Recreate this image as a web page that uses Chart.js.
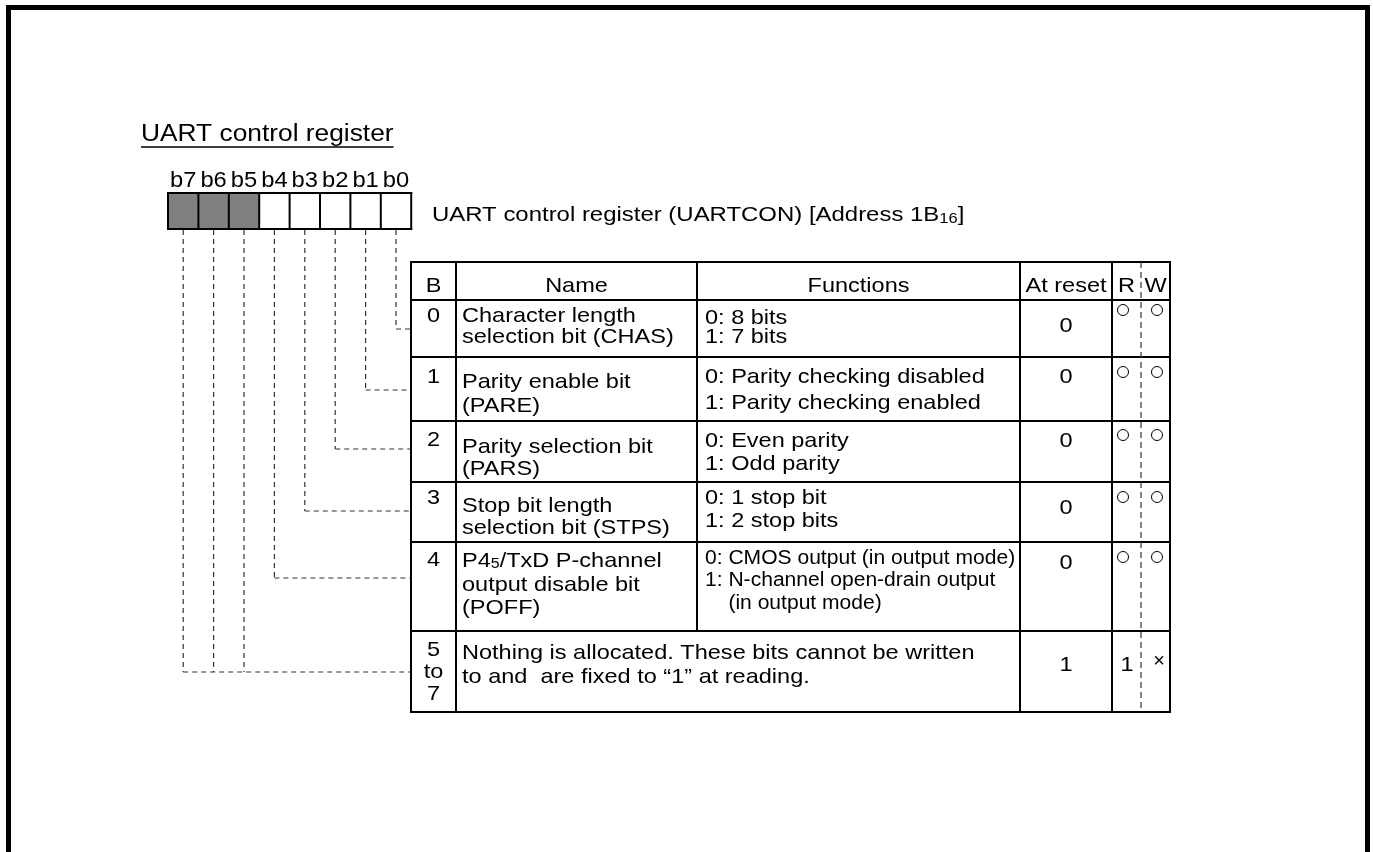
<!DOCTYPE html>
<html>
  <head>
    <meta charset="utf-8" />
    <title>UART control register</title>
    <script src="https://cdn.jsdelivr.net/npm/chart.js@4"></script>
    <style>
      html, body { margin: 0; padding: 0; background: #fff; }
      canvas { display: block; }
    </style>
  </head>
  <body>
    <canvas id="reg" width="1373" height="852"></canvas>

    <script>
      // register bits (b7 .. b0), 1 = not allocated (grey)
      var bitLabels = ["b7", "b6", "b5", "b4", "b3", "b2", "b1", "b0"];
      var bitReserved = [1, 1, 1, 0, 0, 0, 0, 0];

      // table
      var headers = ["B", "Name", "Functions", "At reset", "R", "W"];
      var rowBits = [["0"], ["1"], ["2"], ["3"], ["4"], ["5", "to", "7"]];
      var rowNames = [
        ["Character length", "selection bit (CHAS)"],
        ["Parity enable bit", "(PARE)"],
        ["Parity selection bit", "(PARS)"],
        ["Stop bit length", "selection bit (STPS)"],
        ["P4_5/TxD P-channel", "output disable bit", "(POFF)"],
        ["Nothing is allocated. These bits cannot be written", "to and  are fixed to \u201c1\u201d at reading."],
      ];
      var rowFunctions = [
        ["0: 8 bits", "1: 7 bits"],
        ["0: Parity checking disabled", "1: Parity checking enabled"],
        ["0: Even parity", "1: Odd parity"],
        ["0: 1 stop bit", "1: 2 stop bits"],
        ["0: CMOS output (in output mode)", "1: N-channel open-drain output", "    (in output mode)"],
        [],
      ];
      var rowReset = ["0", "0", "0", "0", "0", "1"];
      var rowRead = ["o", "o", "o", "o", "o", "1"];
      var rowWrite = ["o", "o", "o", "o", "o", "x"];
      // which register bits point at each row
      var rowSource = [[0], [1], [2], [3], [4], [5, 6, 7]];

      var title = "UART control register";
      var regCaption = ["UART control register (UARTCON) [Address 1B", "16", "]"];

      // layout (pixels)
      var W = 1373, H = 852;
      var FONT = '"Liberation Sans", Arial, sans-serif';
      var SX = 1.12; // glyphs in the original are a bit wide
      var boxX = 168, boxW = 30.4, boxTop = 193, boxBot = 229;
      var colX = [411, 456, 697, 1020, 1112, 1141, 1170];
      var rowY = [262, 300, 357, 421, 482, 542, 631, 712];
      var headY = 286;
      var rowLay = [
        { b: 316, name: [316, 337], fn: [318, 337], reset: 326, rw: 310, link: 329 },
        { b: 377, name: [382, 406], fn: [377, 403], reset: 377, rw: 372, link: 390 },
        { b: 440, name: [447, 469], fn: [441, 464], reset: 441, rw: 435, link: 449 },
        { b: 498, name: [506, 528], fn: [498, 521], reset: 508, rw: 497, link: 511 },
        { b: 560, name: [561, 585, 608], fn: [559, 581, 604], reset: 563, rw: 557, link: 578 },
        { b: 650, name: [653, 677], fn: [], reset: 665, rw: 665, link: 672 },
      ];

      var registerPlugin = {
        id: "register",
        afterDraw: function (chart) {
          var ctx = chart.ctx;
          var X = function (v) { return chart.scales.x.getPixelForValue(v); };
          var Y = function (v) { return chart.scales.y.getPixelForValue(v); };

          function line(x1, y1, x2, y2, w, dash, color) {
            ctx.save();
            ctx.strokeStyle = color || "#000";
            ctx.lineWidth = w;
            ctx.setLineDash(dash || []);
            ctx.beginPath();
            ctx.moveTo(X(x1), Y(y1));
            ctx.lineTo(X(x2), Y(y2));
            ctx.stroke();
            ctx.restore();
          }

          function text(s, x, y, size, align, sx) {
            sx = sx || SX;
            ctx.save();
            ctx.font = size + "px " + FONT;
            ctx.fillStyle = "#000";
            ctx.textBaseline = "middle";
            ctx.textAlign = align || "left";
            ctx.translate(X(x), Y(y));
            ctx.scale(sx, 1);
            ctx.fillText(s, 0, 0);
            var w = ctx.measureText(s).width * sx;
            ctx.restore();
            return w;
          }

          // "P4_5" style subscripts
          function subText(s, x, y, size, sx) {
            var parts = s.split("_");
            var cx = x;
            cx += text(parts[0], cx, y, size, "left", sx);
            if (parts.length > 1) {
              cx += text(parts[1].charAt(0), cx, y + 3, size * 0.68, "left", sx);
              cx += text(parts[1].slice(1), cx, y, size, "left", sx);
            }
            return cx - x;
          }

          // frame
          line(8.5, H + 5, 8.5, 7.5, 5);
          line(6, 7.5, 1370, 7.5, 5);
          line(1367.5, 7.5, 1367.5, H + 5, 5);

          // title
          var tw = text(title, 141, 135, 23.5);
          line(141, 147, 141 + tw, 147, 1.5);

          // register boxes
          for (var i = 0; i < bitLabels.length; i++) {
            var bx = boxX + i * boxW;
            if (bitReserved[i]) {
              ctx.fillStyle = "#808080";
              ctx.fillRect(X(bx), Y(boxTop), boxW, boxBot - boxTop);
            }
            text(bitLabels[i], bx + boxW / 2, 181, 22, "center", 1.08);
          }
          for (var i = 0; i <= bitLabels.length; i++) {
            line(boxX + i * boxW, boxTop - 1, boxX + i * boxW, boxBot + 1, 2);
          }
          line(boxX - 1, boxTop, boxX + 8 * boxW + 1, boxTop, 2);
          line(boxX - 1, boxBot, boxX + 8 * boxW + 1, boxBot, 2);

          // caption
          var cx = 432;
          cx += text(regCaption[0], cx, 215, 21, "left", 1.14);
          cx += text(regCaption[1], cx, 219, 14.5, "left", 1.14);
          text(regCaption[2], cx, 215, 21, "left", 1.14);

          // connectors from bits to rows
          var dash = [5, 4];
          for (var r = 0; r < rowSource.length; r++) {
            var ly = rowLay[r].link;
            var xs = rowSource[r].map(function (b) {
              return boxX + (7 - b) * boxW + boxW / 2;
            });
            xs.forEach(function (x) {
              line(x, boxBot + 1, x, ly, 1.2, dash, "#333");
            });
            line(Math.min.apply(null, xs), ly, colX[0], ly, 1.2, dash, "#333");
          }

          // table lines
          for (var k = 0; k < rowY.length; k++) {
            line(colX[0] - 1, rowY[k], colX[6] + 1, rowY[k], 2);
          }
          [0, 1, 3, 4, 6].forEach(function (c) {
            line(colX[c], rowY[0], colX[c], rowY[rowY.length - 1], 2);
          });
          // Name / Functions divider, not in the last row
          line(colX[2], rowY[0], colX[2], rowY[rowY.length - 2], 2);
          // R / W dashed
          line(colX[5], rowY[0], colX[5], rowY[rowY.length - 1], 1.2, [6, 4], "#333");

          // header
          for (var c = 0; c < headers.length; c++) {
            text(headers[c], (colX[c] + colX[c + 1]) / 2, headY, 21, "center");
          }

          // rows
          for (var r = 0; r < rowBits.length; r++) {
            var L = rowLay[r];
            rowBits[r].forEach(function (s, j) {
              text(s, (colX[0] + colX[1]) / 2, L.b + j * 22, 21, "center");
            });
            rowNames[r].forEach(function (s, j) {
              subText(s, 462, L.name[j], 21, SX);
            });
            // bit 4 functions are set in a narrower face
            var condensed = r === 4;
            rowFunctions[r].forEach(function (s, j) {
              text(s, 705, L.fn[j], condensed ? 19.5 : 21, "left", condensed ? 1.08 : SX);
            });
            text(rowReset[r], (colX[3] + colX[4]) / 2, L.reset, 21, "center");

            [[rowRead[r], 1123], [rowWrite[r], 1157]].forEach(function (m) {
              if (m[0] === "o") {
                ctx.save();
                ctx.strokeStyle = "#000";
                ctx.lineWidth = 1;
                ctx.beginPath();
                ctx.arc(X(m[1]), Y(L.rw), 5.5, 0, Math.PI * 2);
                ctx.stroke();
                ctx.restore();
              } else if (m[0] === "x") {
                text("\u00d7", m[1] + 2, L.rw - 4, 20, "center", 1);
              } else {
                text(m[0], m[1] + 4, L.rw, 21, "center");
              }
            });
          }
        },
      };

      var ctx = document.getElementById("reg");
      var regChart = new Chart(ctx, {
        type: "scatter",
        data: { datasets: [{ data: [] }] },
        options: {
          responsive: false,
          animation: false,
          events: [],
          layout: { padding: 0 },
          plugins: { legend: { display: false }, tooltip: { enabled: false } },
          scales: {
            x: { type: "linear", min: 0, max: W, display: false },
            y: { type: "linear", min: 0, max: H, reverse: true, display: false },
          },
        },
        plugins: [registerPlugin],
      });
    </script>
  </body>
</html>
